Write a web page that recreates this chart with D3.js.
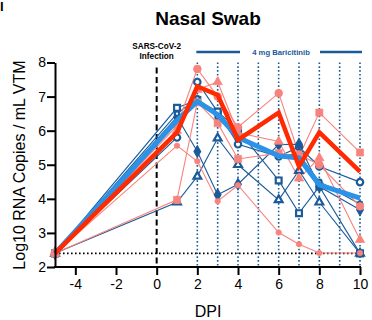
<!DOCTYPE html>
<html>
<head>
<meta charset="utf-8">
<script src="https://cdn.jsdelivr.net/npm/d3@7"></script>
<style>
  body { margin: 0; background: #fff; }
  text { font-family: "Liberation Sans", Arial, sans-serif; }
</style>
</head>
<body>
<script>
// days post infection where samples were taken
const dpi = [-5, 1, 2, 3, 4, 6, 7, 8, 10];
const xTicks = [-4, -2, 0, 2, 4, 6, 8, 10];
const yTicks = [2, 3, 4, 5, 6, 7, 8];
const treatDays = [2, 3, 4, 5, 6, 7, 8, 9, 10];
const lod = 2.4;

// baricitinib treated animals (blue)
const blue1 = [2.4, 5.8, 7.43, 6.55, 5.6, 5.24, 5.52, 4.95, 4.49];
const blue2 = [2.4, 6.67, 6.9, 6.56, 6.02, 4.54, 3.58, 4.36, 2.4];
const blue3 = [2.4, 3.9, 4.66, 5.78, 5.0, 3.97, 4.83, 3.9, 2.4];
const blue4 = [2.4, 6.4, 5.39, 4.12, 4.43, 5.59, 5.6, 4.36, 3.68];
const blue5 = [2.4, 6.5, 6.95, 6.4, 5.75, 5.29, 5.3, 4.5, 3.85];
const blueMean = [2.4, 6.3, 6.86, 6.47, 5.8, 5.26, 5.2, 4.41, 4.02];

// untreated animals (red)
const red1 = [2.4, 3.97, 6.83, 6.22, 5.17, 5.34, 5.24, 6.53, 5.36];
const red2 = [2.4, 6.14, 7.81, 7.0, 6.1, 7.1, 5.3, 5.0, 3.78];
const red3 = [2.4, 5.56, 5.1, 3.93, 4.4, 3.01, 2.67, 2.41, 2.41];
const red4 = [2.4, 6.0, 7.2, 7.43, 5.94, 5.68, 4.6, 5.2, 2.8];
const redMean = [2.4, 5.95, 7.3, 7.05, 5.73, 6.53, 4.95, 5.95, 4.8];

window.onload = function() {
    const w = 372;
    const h = 320;
    const dark = "#1b5b9a";
    const pink = "#f8837c";

    let svg = d3.select("body")
        .append("svg")
        .attr("width", w)
        .attr("height", h);

    const x = d3.scaleLinear().domain([-5, 10]).range([55, 360]);
    const y = d3.scaleLinear().domain([2, 8]).range([267, 62.5]);

    const line = d3.line()
        .x(function(d, i){ return x(dpi[i]); })
        .y(function(d){ return y(d); });

    // dotted treatment day lines
    svg.selectAll(".treat")
        .data(treatDays)
        .enter()
        .append("line")
        .attr("x1", d => x(d)).attr("x2", d => x(d))
        .attr("y1", y(8)).attr("y2", y(2))
        .style("stroke", dark)
        .style("stroke-width", 1.6)
        .style("stroke-dasharray", "1.6,2.2");

    // infection line
    svg.append("line")
        .attr("x1", x(0)).attr("x2", x(0))
        .attr("y1", y(7.85)).attr("y2", y(2))
        .style("stroke", "#000")
        .style("stroke-width", 2)
        .style("stroke-dasharray", "6,3.5");

    // limit of detection
    svg.append("line")
        .attr("x1", x(-5)).attr("x2", x(10))
        .attr("y1", y(lod)).attr("y2", y(lod))
        .style("stroke", "#000")
        .style("stroke-width", 1.6)
        .style("stroke-dasharray", "1.6,2.4");

    const animals = [
        {vals: blue1, col: dark, sym: "circle"},
        {vals: blue2, col: dark, sym: "square"},
        {vals: blue3, col: dark, sym: "triangle"},
        {vals: blue4, col: dark, sym: "diamond"},
        {vals: blue5, col: dark, sym: "dot"},
        {vals: red1, col: pink, sym: "square"},
        {vals: red2, col: pink, sym: "circle"},
        {vals: red3, col: pink, sym: "dot"},
        {vals: red4, col: pink, sym: "triangle"}
    ];

    // thin lines for each animal
    animals.forEach(function(a){
        svg.append("path")
            .attr("d", line(a.vals))
            .style("fill", "none")
            .style("stroke", a.col)
            .style("stroke-width", 1.1);
    });

    // markers
    const symType = {
        circle: d3.symbolCircle, square: d3.symbolSquare,
        triangle: d3.symbolTriangle, diamond: d3.symbolDiamond, dot: d3.symbolCircle
    };
    const symSize = {circle: 32, square: 34, triangle: 26, diamond: 26, dot: 16};
    animals.forEach(function(a){
        const isBlue = a.col === dark;
        const size = isBlue ? symSize[a.sym] : symSize[a.sym] * 1.5;
        svg.selectAll(null)
            .data(a.vals)
            .enter()
            .append("path")
            .attr("transform", (d, i) => "translate(" + x(dpi[i]) + "," + y(d) + ")")
            .attr("d", d3.symbol().type(symType[a.sym]).size(size))
            .style("fill", isBlue && a.sym !== "diamond" ? "#fff" : a.col)
            .style("stroke", a.col)
            .style("stroke-width", isBlue ? 2.2 : 0.6);
    });

    // group means
    svg.append("path")
        .attr("d", line(blueMean))
        .style("fill", "none")
        .style("stroke", "#2a93e8")
        .style("stroke-width", 5)
        .style("stroke-linejoin", "miter");
    svg.append("path")
        .attr("d", line(redMean))
        .style("fill", "none")
        .style("stroke", "#ff2a00")
        .style("stroke-width", 4.5)
        .style("stroke-linejoin", "miter");

    // axes
    const fmt = d => String(d);
    const xAxis = svg.append("g")
        .attr("transform", "translate(0," + y(2) + ")")
        .call(d3.axisBottom(x).tickValues(xTicks).tickFormat(fmt).tickSize(8).tickSizeOuter(0));
    const yAxis = svg.append("g")
        .attr("transform", "translate(" + x(-5) + ",0)")
        .call(d3.axisLeft(y).tickValues(yTicks).tickFormat(fmt).tickSize(8).tickSizeOuter(0));
    [xAxis, yAxis].forEach(function(g){
        g.select(".domain").style("stroke", "#000").style("stroke-width", 2);
        g.selectAll(".tick line").style("stroke", "#000").style("stroke-width", 2);
        g.selectAll(".tick text")
            .style("font-family", "Liberation Sans, Arial, sans-serif")
            .style("font-size", "14px")
            .style("fill", "#000");
    });
    xAxis.selectAll(".tick text").attr("y", 12);
    yAxis.selectAll(".tick text").attr("x", -9);
    xAxis.select(".domain").attr("d", "M" + (x(-5) - 1) + ",0H" + (x(10) + 1));

    // titles
    svg.append("text")
        .attr("x", 208).attr("y", 25)
        .attr("text-anchor", "middle")
        .style("font-size", "19px")
        .style("font-weight", "bold")
        .text("Nasal Swab");
    svg.append("text")
        .attr("x", 0).attr("y", 11)
        .style("font-size", "13px")
        .style("font-weight", "bold")
        .text("I");
    svg.append("text")
        .attr("x", 208).attr("y", 317)
        .attr("text-anchor", "middle")
        .style("font-size", "16px")
        .text("DPI");
    svg.append("text")
        .attr("transform", "translate(25,165) rotate(-90)")
        .attr("text-anchor", "middle")
        .style("font-size", "16px")
        .text("Log10 RNA Copies / mL VTM");

    // infection annotation
    const inf = svg.append("text")
        .attr("text-anchor", "middle")
        .style("font-size", "8.2px")
        .style("font-weight", "bold");
    inf.append("tspan").attr("x", x(0)).attr("y", 49).text("SARS-CoV-2");
    inf.append("tspan").attr("x", x(0)).attr("y", 58.5).text("Infection");

    // treatment bar
    svg.append("line")
        .attr("x1", x(2) - 1).attr("x2", 240).attr("y1", 52).attr("y2", 52)
        .style("stroke", dark).style("stroke-width", 2.5);
    svg.append("line")
        .attr("x1", 320).attr("x2", x(10) + 2).attr("y1", 52).attr("y2", 52)
        .style("stroke", dark).style("stroke-width", 2.5);
    svg.append("text")
        .attr("x", 281).attr("y", 55)
        .attr("text-anchor", "middle")
        .style("font-size", "7.7px")
        .style("font-weight", "bold")
        .style("fill", dark)
        .text("4 mg Baricitinib");
};
</script>
</body>
</html>
